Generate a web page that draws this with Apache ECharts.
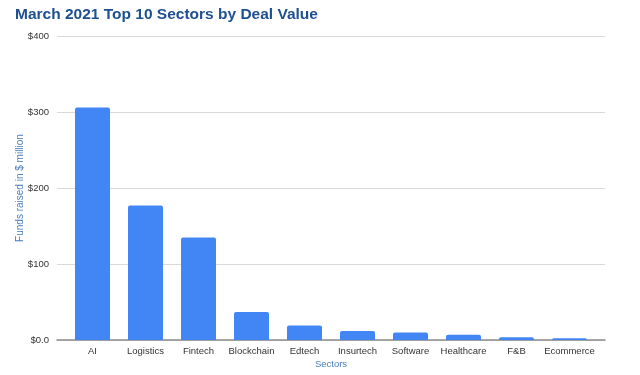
<!DOCTYPE html>
<html><head><meta charset="utf-8">
<script src="https://cdn.jsdelivr.net/npm/echarts@6/dist/echarts.min.js"></script>
<style>html,body{margin:0;padding:0;background:#fff}#c{width:640px;height:375px}</style>
</head><body><div id="c"></div>
<script>
const categories = ["AI","Logistics","Fintech","Blockchain","Edtech","Insurtech","Software","Healthcare","F&B","Ecommerce"];
const values = [306,177,135,37,19,12,10,7,3.5,2.2];
const yTicks = [0,100,200,300,400];
const yTickLabels = ["$0.0","$100","$200","$300","$400"];

const chart = echarts.init(document.getElementById('c'), null, {renderer:'canvas'});
const font = 'Arial, "Liberation Sans", sans-serif';
chart.setOption({
  animation:false,
  title:{text:'March 2021 Top 10 Sectors by Deal Value',left:10,top:2,
    textStyle:{fontFamily:font,fontWeight:'bold',fontSize:15.5,color:'#1d4f91'}},
  grid:[
    {left:57,right:35,top:36,bottom:35},
    {left:66,right:44,top:36,bottom:35}
  ],
  xAxis:[
    {type:'category',gridIndex:0,data:categories,axisLine:{show:true,lineStyle:{color:'#8c8c8c',width:1.5}},
     axisTick:{show:false},axisLabel:{show:false},splitLine:{show:false}},
    {type:'category',gridIndex:1,data:categories,axisLine:{show:false},axisTick:{show:false},
     axisLabel:{fontFamily:font,fontSize:9.5,color:'#333',margin:6,interval:0},
     name:'Sectors',nameLocation:'middle',nameGap:19,nameMoveOverlap:false,
     nameTextStyle:{fontFamily:font,fontSize:9.5,color:'#4a7ebb'}}
  ],
  yAxis:[
    {type:'value',gridIndex:0,min:0,max:400,interval:100,
     axisLabel:{fontFamily:font,fontSize:9.5,color:'#333',margin:8,
       formatter:function(v){const i=yTicks.indexOf(v);return i>=0?yTickLabels[i]:'';}},
     axisLine:{show:false},axisTick:{show:false},
     splitLine:{lineStyle:{color:'#d9d9d9',width:1}},
     name:'Funds raised in $ million',nameLocation:'middle',nameGap:31.5,nameMoveOverlap:false,
     nameTextStyle:{fontFamily:font,fontSize:10,color:'#4a7ebb'}},
    {type:'value',gridIndex:1,min:0,max:400,interval:100,show:false,splitLine:{show:false}}
  ],
  series:[{type:'bar',xAxisIndex:1,yAxisIndex:1,data:values,barWidth:35,
    itemStyle:{color:'#4285f4',borderRadius:[2,2,0,0]}}]
});
</script></body></html>
